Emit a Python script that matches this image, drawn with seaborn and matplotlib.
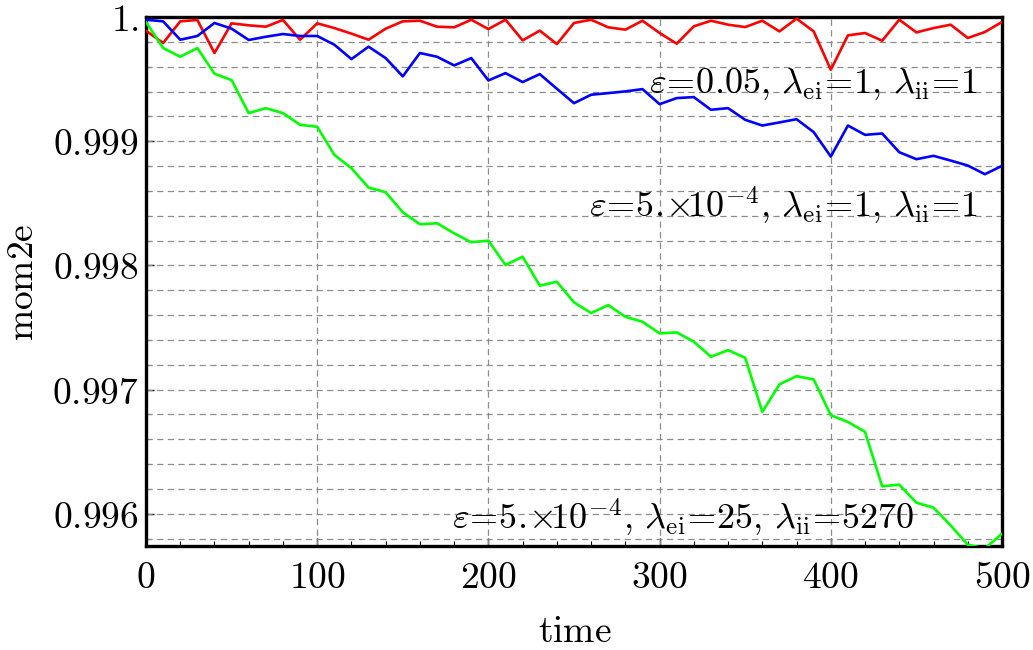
import matplotlib
matplotlib.use("Agg")
import matplotlib.pyplot as plt
import seaborn as sns
import pandas as pd
from matplotlib.ticker import FixedLocator, MultipleLocator, FixedFormatter

# ---- data ----
time = list(range(0, 501, 10))

red = [0.999890, 0.999790, 0.999965, 0.999976, 0.999710, 0.999949, 0.999933, 0.999922,
       0.999976, 0.999817, 0.999949, 0.999911, 0.999866, 0.999817, 0.999906, 0.999965,
       0.999970, 0.999922, 0.999917, 0.999978, 0.999903, 0.999978, 0.999812, 0.999890,
       0.999782, 0.999952, 0.999978, 0.999917, 0.999898, 0.999970, 0.999871, 0.999785,
       0.999925, 0.999970, 0.999938, 0.999919, 0.999970, 0.999884, 0.999987, 0.999884,
       0.999575, 0.999852, 0.999871, 0.999809, 0.999978, 0.999876, 0.999911, 0.999938,
       0.999831, 0.999879, 0.999960]

blue = [0.999978, 0.999965, 0.999817, 0.999847, 0.999952, 0.999906, 0.999815, 0.999841,
        0.999863, 0.999847, 0.999847, 0.999777, 0.999661, 0.999761, 0.999669, 0.999522,
        0.999710, 0.999680, 0.999610, 0.999669, 0.999489, 0.999548, 0.999476, 0.999540,
        0.999422, 0.999306, 0.999374, 0.999387, 0.999401, 0.999419, 0.999298, 0.999347,
        0.999355, 0.999253, 0.999266, 0.999172, 0.999126, 0.999151, 0.999177, 0.999073,
        0.998876, 0.999126, 0.999051, 0.999062, 0.998911, 0.998855, 0.998882, 0.998844,
        0.998804, 0.998734, 0.998801]

green = [0.999960, 0.999750, 0.999680, 0.999750, 0.999543, 0.999492, 0.999226, 0.999266,
         0.999226, 0.999132, 0.999116, 0.998890, 0.998782, 0.998626, 0.998589, 0.998428,
         0.998331, 0.998339, 0.998258, 0.998186, 0.998199, 0.998003, 0.998070, 0.997836,
         0.997868, 0.997702, 0.997616, 0.997680, 0.997586, 0.997546, 0.997452, 0.997460,
         0.997385, 0.997264, 0.997317, 0.997256, 0.996820, 0.997041, 0.997108, 0.997081,
         0.996793, 0.996739, 0.996659, 0.996221, 0.996234, 0.996089, 0.996049, 0.995906,
         0.995750, 0.995720, 0.995839]

series_names = ["eps005", "eps5e-4", "eps5e-4_coll"]
series_colors = ["#ff0000", "#0000ff", "#00ff00"]
series_labels = [r"$\varepsilon\!=\!0.05,\,\lambda_{\mathrm{ei}}\!=\!1,\,\lambda_{\mathrm{ii}}\!=\!1$",
                 r"$\varepsilon\!=\!5.\!{\times}\!10^{-4},\,\lambda_{\mathrm{ei}}\!=\!1,\,\lambda_{\mathrm{ii}}\!=\!1$",
                 r"$\varepsilon\!=\!5.\!{\times}\!10^{-4},\,\lambda_{\mathrm{ei}}\!=\!25,\,\lambda_{\mathrm{ii}}\!=\!5270$"]

x_ticks = [0, 100, 200, 300, 400, 500]
x_tick_labels = ["0", "100", "200", "300", "400", "500"]
y_ticks = [0.996, 0.997, 0.998, 0.999, 1.0]
y_tick_labels = ["0.996", "0.997", "0.998", "0.999", "1."]

# ---- style ----
sns.set_theme(style="white")
plt.rcParams["font.family"] = ["DejaVu Serif"]
plt.rcParams["mathtext.fontset"] = "cm"
plt.rcParams["text.color"] = "black"

fig = plt.figure(figsize=(10.33, 6.5), dpi=100)
ax = fig.add_axes([146 / 1033, 1 - 546 / 650, (1002 - 146) / 1033, (546 - 17) / 650])

df = pd.DataFrame({
    "time": time * 3,
    "mom2e": red + blue + green,
    "series": [series_names[0]] * len(time) + [series_names[1]] * len(time) + [series_names[2]] * len(time),
})
sns.lineplot(data=df, x="time", y="mom2e", hue="series",
             palette=dict(zip(series_names, series_colors)),
             linewidth=1.9, legend=False, sort=False, ax=ax, zorder=3)

ax.set_xlim(0, 500)
ax.set_ylim(0.99574, 1.0)

ax.xaxis.set_major_locator(FixedLocator(x_ticks))
ax.xaxis.set_minor_locator(MultipleLocator(20))
ax.yaxis.set_major_locator(FixedLocator(y_ticks))
ax.yaxis.set_minor_locator(MultipleLocator(0.0002))
ax.xaxis.set_major_formatter(FixedFormatter(["$" + s + "$" for s in x_tick_labels]))
ax.yaxis.set_major_formatter(FixedFormatter(["$" + s + "$" for s in y_tick_labels]))

# dashed grid
for xv in x_ticks[1:-1]:
    ax.axvline(xv, color="#8c8c8c", lw=0.9, ls=(0, (5, 3.5)), zorder=1)
ygrid = [0.9958 + 0.0002 * i for i in range(21)]
for yv in ygrid:
    if yv < 0.99999:
        ax.axhline(yv, color="#8c8c8c", lw=0.9, ls=(0, (5, 3.5)), zorder=1)

ax.tick_params(axis="both", which="both", direction="in", top=False, right=False,
               left=True, bottom=True, color="black", labelcolor="black")
ax.tick_params(axis="y", which="major", length=6, width=1, labelsize=27, pad=5)
ax.tick_params(axis="x", which="major", length=6, width=1, labelsize=27, pad=10)
ax.tick_params(axis="both", which="minor", length=3.5, width=0.8)

for sp in ax.spines.values():
    sp.set_visible(True)
    sp.set_color("black")
    sp.set_linewidth(2.4)

ax.set_xlabel(r"$\mathrm{time}$", fontsize=27, color="black")
ax.set_ylabel(r"$\mathrm{mom2e}$", fontsize=27, color="black")
ax.xaxis.set_label_coords((575 - 146) / 856, (546 - 632) / 529)
ax.xaxis.label.set_va("center")
ax.yaxis.set_label_coords((23 - 146) / 856, (546 - 282) / 529)
ax.yaxis.label.set_va("center")

# annotations
ax.text(486, 0.99939, series_labels[0], ha="right", va="baseline", fontsize=26, color="black", zorder=4)
ax.text(486, 0.99838, series_labels[1], ha="right", va="baseline", fontsize=26, color="black", zorder=4)
ax.text(449, 0.99587, series_labels[2], ha="right", va="baseline", fontsize=26, color="black", zorder=4)

fig.savefig("out.png", dpi=100)
